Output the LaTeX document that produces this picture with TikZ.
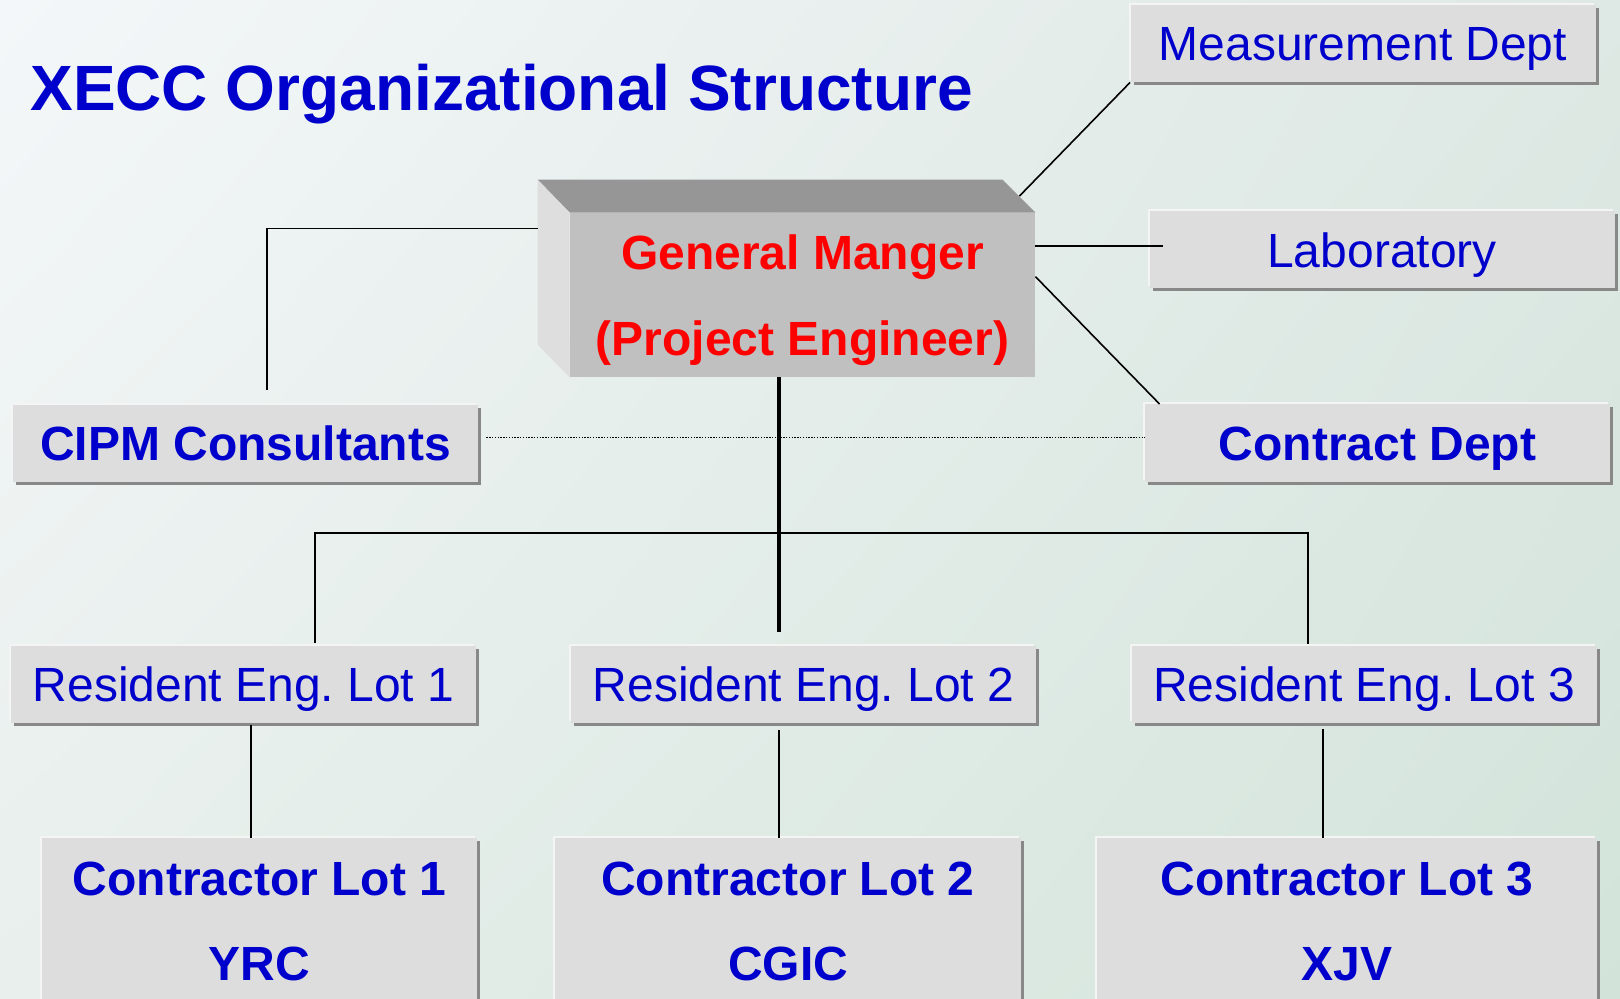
\documentclass[tikz,border=0pt]{standalone}
\usepackage{fontspec}
\setmainfont{Liberation Sans}
\frenchspacing
\usepackage{xcolor}
\definecolor{Blue}{RGB}{0,0,204}
\definecolor{Red}{RGB}{255,0,0}
\definecolor{BoxGray}{RGB}{221,221,221}
\definecolor{FrontGray}{RGB}{192,192,192}
\definecolor{TopGray}{RGB}{150,150,150}
\definecolor{SideGray}{RGB}{222,222,222}
\definecolor{ShadowGray}{RGB}{136,136,136}
\definecolor{EdgeWhite}{RGB}{244,244,244}
\definecolor{BackA}{RGB}{244,247,249}
\definecolor{BackB}{RGB}{222,232,228}
\definecolor{BackC}{RGB}{232,239,236}
\definecolor{BackD}{RGB}{210,228,218}
\usepackage{tikz}
\usetikzlibrary{shadows,shadings}

\tikzset{
	boxshadow/.style={general shadow={fill=EdgeWhite, shadow xshift=-1pt, shadow yshift=1pt},
		drop shadow={fill=ShadowGray, opacity=1, shadow xshift=1.5pt, shadow yshift=-1.5pt}},
	deptbox/.style={boxshadow, fill=BoxGray, text=Blue, inner sep=0pt, minimum width=232.5pt, minimum height=38.5pt,
		font=\fontsize{24}{24}\selectfont, text height=17.2pt, text depth=0pt},
	deptbold/.style={deptbox, font=\fontsize{24}{24}\selectfont\bfseries},
	lotbox/.style={boxshadow, fill=BoxGray, text=Blue, inner sep=0pt, minimum height=82.5pt, align=center,
		font=\fontsize{24}{42.5}\selectfont\bfseries, text height=59.7pt, text depth=0pt},
	conn/.style={draw=black, line width=0.8pt},
	trunk/.style={draw=black, line width=2pt},
	dotline/.style={draw=black, line width=0.6pt, dash pattern=on 0.7pt off 0.7pt},
}

\begin{document}
\begin{tikzpicture}[x=0.5pt, y=-0.5pt]
		
		% Background
		\clip (0,0) rectangle (1620,999);
		\shade[upper left=BackA, upper right=BackB, lower left=BackC, lower right=BackD] (0,0) rectangle (1620,999);
		
		% Title
		\node[anchor=base west, inner sep=0pt, text=Blue, font=\fontsize{32}{32}\selectfont\bfseries] (title) at (30,111) {XECC Organizational Structure};
		
		% General manager block
		\node[fill=FrontGray, text=Red, inner sep=0pt, minimum width=232.5pt, minimum height=82pt, align=center,
			font=\fontsize{24}{43}\selectfont\bfseries, text height=60.2pt, text depth=0pt] (gm) at (802.5,295) {General Manger\\(Project Engineer)};
		\fill[TopGray] (gm.north west) -- (gm.north east) -- ([shift={(-16.5pt,16.5pt)}]gm.north east) -- ([shift={(-16pt,16.5pt)}]gm.north west) -- cycle;
		\fill[SideGray] (gm.north west) -- ([shift={(-16pt,16.5pt)}]gm.north west) -- ([shift={(-16pt,16.5pt)}]gm.south west) -- (gm.south west) -- cycle;
		
		% Departments
		\node[deptbox]  (meas)     at (1363,43.5)  {Measurement Dept};
		\node[deptbox]  (lab)      at (1382,250)   {Laboratory};
		\node[deptbold] (contract) at (1377.5,443) {Contract Dept};
		\node[deptbold] (cipm)     at (245.5,443.5) {CIPM Consultants};
		
		% Resident engineers
		\node[deptbox] (re1) at (243.5,684)  {Resident Eng. Lot 1};
		\node[deptbox] (re2) at (803.5,684.5) {Resident Eng. Lot 2};
		\node[deptbox] (re3) at (1364,684.5) {Resident Eng. Lot 3};
		
		% Contractors
		\node[lotbox, minimum width=217.5pt] (c1) at (259.5,920.5) {Contractor Lot 1\\YRC};
		\node[lotbox, minimum width=233pt]   (c2) at (788,920.5)   {Contractor Lot 2\\CGIC};
		\node[lotbox, minimum width=250pt]   (c3) at (1347,920.5)  {Contractor Lot 3\\XJV};
		
		% Lines
		\draw[conn] ([shift={(-16pt,-8pt)}]gm.north west) -| ([shift={(10.75pt,7.5pt)}]cipm.north);
		\draw[conn] ([shift={(-8pt,8.25pt)}]gm.north east) -- (meas.south west);
		\coordinate (labin) at ([shift={(7pt,2pt)}]lab.west);
		\draw[conn] (labin -| gm.east) -- (labin);
		\draw[conn] ([yshift=-32pt]gm.north east) -- ([xshift=7.5pt]contract.north west);
		\coordinate (dotl) at ([shift={(4pt,3pt)}]cipm.east);
		\draw[dotline] (dotl) -- (dotl -| contract.west);
		
		\draw[trunk] ([xshift=-11.75pt]gm.south) -- ([shift={(-12.25pt,7pt)}]re2.north);
		\coordinate (bar) at (779,533);
		\draw[conn] ([shift={(35.75pt,1pt)}]re1.north) |- (bar) -| ([shift={(-28pt,1pt)}]re3.north);
		
		\coordinate (r1) at ([shift={(3.75pt,-1pt)}]re1.south);
		\coordinate (r2) at ([shift={(-12.25pt,-3.5pt)}]re2.south);
		\coordinate (r3) at ([shift={(-20.5pt,-3pt)}]re3.south);
		\draw[conn] (r1) -- (r1 |- c1.north);
		\draw[conn] (r2) -- (r2 |- c2.north);
		\draw[conn] (r3) -- (r3 |- c3.north);
		
	\end{tikzpicture}
\end{document}
